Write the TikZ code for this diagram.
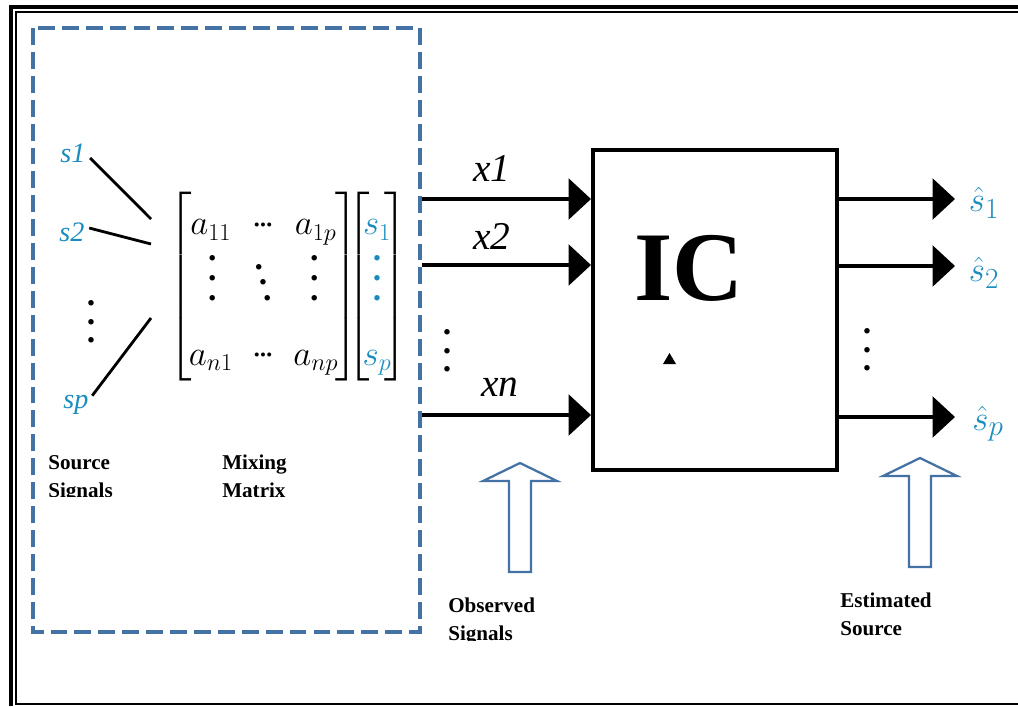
\documentclass[tikz,border=0pt]{standalone}
\usepackage{amsmath}
\usepackage{fontspec}
\setmainfont{Liberation Serif}
\usepackage{tikz}
\usetikzlibrary{arrows.meta,positioning,calc}
\definecolor{boxblue}{RGB}{68,114,164}
\definecolor{sigblue}{RGB}{28,140,190}
\newcommand{\vdotz}{\vcenter{\bfseries\baselineskip=13pt\hbox{.}\hbox{.}\hbox{.}}}
\newcommand{\vdotb}{\vbox{\bfseries\baselineskip=14pt\hbox{.}\hbox{.}\hbox{.}}}
\newcommand{\ddotb}{\vbox{\bfseries\baselineskip=11pt\hbox{.}\hbox{\kern3pt.}\hbox{\kern6pt.}}}
\newcommand{\cdotz}{\raise6pt\hbox{.\kern-1.5pt.\kern-1.5pt.}}

\tikzset{
  uparrow/.pic={\draw[hollow] (0,0) -- (37,18) -- (11,18) -- (11,109) -- (-11,109) -- (-11,18) -- (-37,18) -- cycle;}
}

\begin{document}
\begin{tikzpicture}[
  x=0.025cm, y=-0.025cm,
  dashbox/.style={draw=boxblue, line width=3.5pt, dash pattern=on 12pt off 5pt},
  sig/.style={text=sigblue, font=\fontsize{20}{24}\selectfont, inner sep=1pt},
  lbl/.style={font=\bfseries\fontsize{15}{20}\selectfont, inner sep=0pt, anchor=base west},
  xin/.style={font=\itshape\fontsize{28}{32}\selectfont, inner sep=0pt},
  est/.style={text=sigblue, font=\fontsize{32}{36}\selectfont, inner sep=0pt},
  dots/.style={font=\fontsize{24}{28}\selectfont, inner sep=0pt},
  mat/.style={inner sep=0pt, font=\fontsize{24}{29}\selectfont},
  arr/.style={-{Triangle[length=16pt, width=29pt]}, line width=2.6pt},
  tie/.style={line width=2pt},
  hollow/.style={draw=boxblue, line width=1.6pt, fill=white}
]
\useasboundingbox (0,0) rectangle (1018,706);

% page frame
\draw[line width=3pt] (11,706) -- (11,7) -- (1018,7);
\draw[line width=1.1pt] (1018,12) -- (16,12) -- (16,704) -- (1018,704);

% mixing part
\draw[dashbox] (33,28) rectangle (420,632);

\node[sig] (s1) at (73,153) {$\mathit{s1}$};
\node[sig] (s2) at (72,232) {$\mathit{s2}$};
\node[dots] (sdots) at (91,322) {$\vdotz$};
\node[sig] (sp) at (76,405) {$\mathit{sp}$};

\node[mat] (mixmat) at (263.5,287)
  {\renewcommand{\arraystretch}{1.6}\setlength{\arraycolsep}{7pt}%
   $\begin{bmatrix} \kern-2pt a_{11} & \cdotz & a_{1p}\kern-2pt\\ \vdotb & \ddotb & \vdotb\\ \kern-2pt a_{n1} & \cdotz & a_{np}\kern-2pt\end{bmatrix}$};
\node[mat] (srcvec) at (377,287)
  {\renewcommand{\arraystretch}{1.6}%
   $\begin{bmatrix} \kern-5pt\color{sigblue}s_1\kern-5pt\\ \color{sigblue}\vdotb\\ \kern-5pt\color{sigblue}s_p\kern-5pt\end{bmatrix}$};

\coordinate (m1) at (151,219);
\coordinate (m2) at (151,244);
\coordinate (m3) at (151,318);
\draw[tie] ([shift={(3,5)}]s1.east) -- (m1);
\draw[tie] ([shift={(3,-4)}]s2.east) -- (m2);
\draw[tie] ([shift={(2,2)}]sp.north east) -- (m3);

\begin{scope}
  \clip (40,440) rectangle (400,496);
  \node[lbl] (srcA) at (48,469) {Source};
  \node[lbl] (srcB) at (48,497) {Signals};
  \node[lbl] (mixA) at (222,469) {Mixing};
  \node[lbl] (mixB) at (222,497) {Matrix};
\end{scope}

% separating block
\node[draw, line width=2.8pt, minimum width=6.1cm, minimum height=8cm] (ic) at (715,310) {};
\node[font=\bfseries\fontsize{70}{70}\selectfont, inner sep=0pt] (ictext) at (689,268) {IC};
\fill (663,364) -- (676,364) -- (669.5,353) -- cycle;

% observed signals
\coordinate (in1) at (422,199);
\coordinate (in2) at (422,265);
\coordinate (in3) at (422,415);
\draw[arr] (in1) -- (in1 -| ic.west);
\draw[arr] (in2) -- (in2 -| ic.west);
\draw[arr] (in3) -- (in3 -| ic.west);
\node[xin] (x1) at (492,168) {x1};
\node[xin] (x2) at (492,236) {x2};
\node[xin] (xn) at (500,387) {xn};
\node[dots] (xdots) at (447,351) {$\vdotz$};

% estimated sources
\coordinate (out1) at (955,199);
\coordinate (out2) at (955,266);
\coordinate (out3) at (955,417);
\draw[arr] (out1 -| ic.east) -- (out1);
\draw[arr] (out2 -| ic.east) -- (out2);
\draw[arr] (out3 -| ic.east) -- (out3);
\node[est] (e1) at (984,203) {$\hat{s}_1$};
\node[est] (e2) at (984,273) {$\hat{s}_2$};
\node[est] (ep) at (988,424) {$\hat{s}_p$};
\node[dots] (edots) at (867,350) {$\vdotz$};

% pointers
\pic (obsarrow) at (520,463) {uparrow};
\pic (estarrow) at (920,458) {uparrow};
\begin{scope}
  \clip (440,580) rectangle (1000,640);
  \node[lbl] (obsA) at (448,612) {Observed};
  \node[lbl] (obsB) at (448,640) {Signals};
\end{scope}
\begin{scope}
  \clip (830,570) rectangle (1000,636);
  \node[lbl] (estA) at (840,607) {Estimated};
  \node[lbl] (estB) at (840,635) {Source};
\end{scope}
\end{tikzpicture}
\end{document}
